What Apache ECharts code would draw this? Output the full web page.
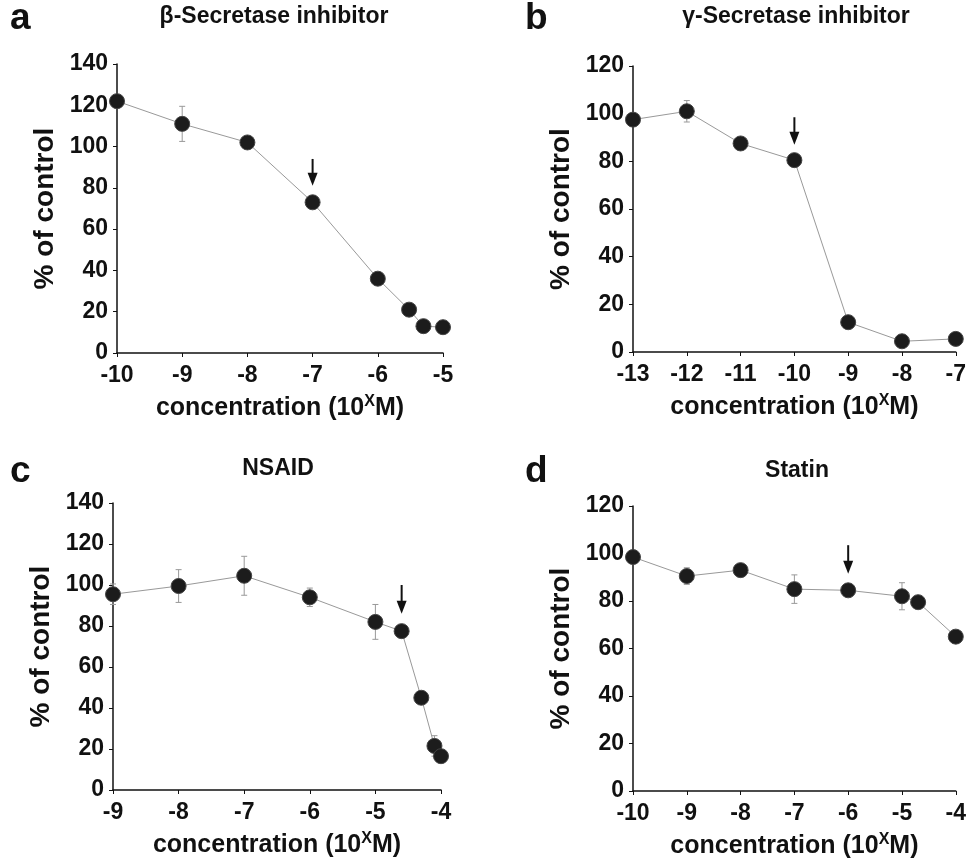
<!DOCTYPE html>
<html>
<head>
<meta charset="utf-8">
<script src="https://cdn.jsdelivr.net/npm/echarts@6/dist/echarts.min.js"></script>
<style>html,body{margin:0;padding:0;background:#fff;}#main{width:969px;height:863px;}</style>
</head>
<body>
<div id="main"></div>
<script>
// ---- data ----
const panelLetters = ['a', 'b', 'c', 'd'];
const panelTitles = ['β-Secretase inhibitor', 'γ-Secretase inhibitor', 'NSAID', 'Statin'];

const xTicksA = [-10, -5];
const xA = [-10, -9, -8, -7, -6, -5.52, -5.3, -5];
const yA = [122, 111, 102, 73, 36, 21, 13, 12.5];
const errA = [0, 8.5, 0, 0, 0, 0, 0, 0];
const arrowA = [-7, 94, 81];

const xTicksB = [-13, -7];
const xB = [-13, -12, -11, -10, -9, -8, -7];
const yB = [97.5, 101, 87.5, 80.5, 12.5, 4.5, 5.5];
const errB = [2, 4.5, 0, 0, 0, 0, 0];
const arrowB = [-10, 98.5, 87];

const xTicksC = [-9, -4];
const xC = [-9, -8, -7, -6, -5, -4.6, -4.3, -4.1, -4];
const yC = [95.5, 99.5, 104.5, 94, 82, 77.5, 45, 21.5, 16.5];
const errC = [5, 8, 9.5, 4.5, 8.5, 0, 0, 5, 0];
const arrowC = [-4.6, 100, 86];

const xTicksD = [-10, -4];
const xD = [-10, -9, -8, -7, -6, -5, -4.7, -4];
const yD = [98.5, 90.5, 93, 85, 84.5, 82, 79.5, 65];
const errD = [0, 3.5, 0, 6, 0, 5.7, 0, 0];
const arrowD = [-6, 103.5, 91.5];

const yMax = [140, 120, 140, 120];
const yLabel = '% of control';

// ---- layout ----
const FONT = '"Liberation Sans", Arial, sans-serif';
const grids = [
  {left: 117, top: 64, width: 326, height: 289},
  {left: 633, top: 66, width: 327, height: 286},
  {left: 113, top: 503, width: 328, height: 287},
  {left: 633, top: 506, width: 329, height: 285}
];
const letterPos = [[10, 0], [525, 0], [10, 453], [525, 453]];
const titlePos = [[274, 5], [796, 5], [278, 457], [797, 459]];

const panels = [
  {ticks: xTicksA, x: xA, y: yA, err: errA, arrow: arrowA},
  {ticks: xTicksB, x: xB, y: yB, err: errB, arrow: arrowB},
  {ticks: xTicksC, x: xC, y: yC, err: errC, arrow: arrowC},
  {ticks: xTicksD, x: xD, y: yD, err: errD, arrow: arrowD}
];

const title = [];
panelLetters.forEach((l, i) => {
  title.push({text: l, left: letterPos[i][0], top: letterPos[i][1], padding: 0,
    textStyle: {fontFamily: FONT, fontWeight: 'bold', fontSize: 37, color: '#111'}});
  title.push({text: panelTitles[i], left: titlePos[i][0], top: titlePos[i][1], padding: 0, textAlign: 'center',
    textStyle: {fontFamily: FONT, fontWeight: 'bold', fontSize: 23, color: '#111'}});
});

const xAxis = [], yAxis = [], series = [];
panels.forEach((p, i) => {
  xAxis.push({
    type: 'value', gridIndex: i, min: p.ticks[0], max: p.ticks[1], interval: 1,
    splitLine: {show: false},
    axisLine: {lineStyle: {color: '#111', width: 1.5}},
    axisTick: {length: 4, lineStyle: {color: '#111', width: 1}},
    axisLabel: {fontFamily: FONT, fontWeight: 'bold', fontSize: 23, color: '#111', margin: 11},
    name: 'concentration (10{sup|X}M)', nameLocation: 'middle', nameGap: 41,
    nameTextStyle: {fontFamily: FONT, fontWeight: 'bold', fontSize: 25, color: '#111',
      rich: {sup: {fontFamily: FONT, fontWeight: 'bold', fontSize: 16, color: '#111', padding: [0, 0, 13, 0]}}}
  });
  yAxis.push({
    type: 'value', gridIndex: i, min: 0, max: yMax[i], interval: 20,
    splitLine: {show: false},
    axisLine: {show: true, lineStyle: {color: '#111', width: 1.5}},
    axisTick: {show: true, length: 4, lineStyle: {color: '#111', width: 1}},
    axisLabel: {fontFamily: FONT, fontWeight: 'bold', fontSize: 23, color: '#111', margin: 9},
    name: yLabel, nameLocation: 'middle', nameGap: 58,
    nameTextStyle: {fontFamily: FONT, fontWeight: 'bold', fontSize: 28, color: '#111'}
  });
  const pts = p.x.map((x, k) => [x, p.y[k], p.err[k]]);
  // error bars
  series.push({
    type: 'custom', xAxisIndex: i, yAxisIndex: i, z: 1, silent: true,
    data: pts.filter(d => d[2] > 0),
    renderItem: (params, api) => {
      const x = api.value(0), y = api.value(1), e = api.value(2);
      const top = api.coord([x, y + e]);
      const bot = api.coord([x, y - e]);
      const cw = 3;
      const st = {stroke: '#999', lineWidth: 1};
      return {type: 'group', children: [
        {type: 'line', shape: {x1: top[0], y1: top[1], x2: bot[0], y2: bot[1]}, style: st},
        {type: 'line', shape: {x1: top[0] - cw, y1: top[1], x2: top[0] + cw, y2: top[1]}, style: st},
        {type: 'line', shape: {x1: bot[0] - cw, y1: bot[1], x2: bot[0] + cw, y2: bot[1]}, style: st}
      ]};
    }
  });
  // line + markers
  series.push({
    type: 'line', xAxisIndex: i, yAxisIndex: i, z: 3, clip: false,
    data: pts.map(d => [d[0], d[1]]),
    symbol: 'circle', symbolSize: 15,
    itemStyle: {color: '#1c1c1c', borderColor: '#444', borderWidth: 1},
    lineStyle: {color: '#999', width: 1},
    animation: false
  });
  // arrow
  series.push({
    type: 'custom', xAxisIndex: i, yAxisIndex: i, z: 4, silent: true,
    data: [p.arrow],
    renderItem: (params, api) => {
      const a = api.coord([api.value(0), api.value(1)]);
      const b = api.coord([api.value(0), api.value(2)]);
      const hl = 13, hw = 5;
      return {type: 'group', children: [
        {type: 'line', shape: {x1: a[0], y1: a[1], x2: b[0], y2: b[1] - hl + 2}, style: {stroke: '#111', lineWidth: 2}},
        {type: 'polygon', shape: {points: [[b[0] - hw, b[1] - hl], [b[0] + hw, b[1] - hl], [b[0], b[1]]]}, style: {fill: '#111'}}
      ]};
    }
  });
});

const chart = echarts.init(document.getElementById('main'));
chart.setOption({
  animation: false,
  backgroundColor: '#fff',
  title: title,
  grid: grids,
  xAxis: xAxis,
  yAxis: yAxis,
  series: series
});
</script>
</body>
</html>
